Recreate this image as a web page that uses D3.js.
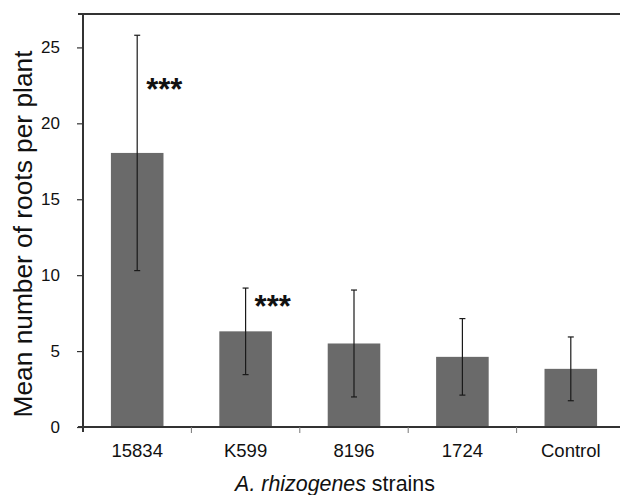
<!DOCTYPE html>
<html>
<head>
<meta charset="utf-8">
<script src="https://d3js.org/d3.v7.min.js"></script>
<style>
  body { margin: 0; background: #fff; }
  svg { display: block; }
  text { font-family: Arial, "Liberation Sans", sans-serif; fill: #111; }
</style>
</head>
<body>
<div id="chart"></div>
<script>
  // Chart data
  const strains = ['15834', 'K599', '8196', '1724', 'Control'];
  const meanRoots = [18.05, 6.3, 5.5, 4.62, 3.83];
  const sdRoots = [7.75, 2.85, 3.52, 2.52, 2.1];
  const stars = ['***', '***', '', '', ''];
  const starLevel = [22.7, 8.4, 0, 0, 0];
  const yTicks = [0, 5, 10, 15, 20, 25];

  const width = 620, height = 495;
  const margin = {top: 14, right: -5, bottom: 68, left: 83};
  const fontFam = 'Arial, "Liberation Sans", sans-serif';

  const svg = d3.select('#chart')
    .append('svg')
    .attr('width', width)
    .attr('height', height);

  const x = d3.scaleBand()
    .domain(strains)
    .range([margin.left, width - margin.right])
    .paddingInner(0.515)
    .paddingOuter(0.2575);

  const y = d3.scaleLinear()
    .domain([0, 27.2])
    .range([height - margin.bottom, margin.top]);

  // bars
  svg.selectAll('rect.bar')
    .data(strains)
    .enter()
    .append('rect')
    .attr('class', 'bar')
    .attr('x', d => x(d))
    .attr('width', x.bandwidth())
    .attr('y', (d, i) => y(meanRoots[i]))
    .attr('height', (d, i) => y(0) - y(meanRoots[i]))
    .style('fill', '#6a6a6a');

  // error bars
  const err = svg.append('g');
  strains.forEach((s, i) => {
    const cx = x(s) + x.bandwidth() / 2;
    const lo = y(meanRoots[i] - sdRoots[i]);
    const hi = y(meanRoots[i] + sdRoots[i]);
    err.append('line')
      .attr('x1', cx).attr('x2', cx).attr('y1', lo).attr('y2', hi)
      .style('stroke', '#1a1a1a').style('stroke-width', 1.2);
    [lo, hi].forEach(yy => {
      err.append('line')
        .attr('x1', cx - 3).attr('x2', cx + 3).attr('y1', yy).attr('y2', yy)
        .style('stroke', '#1a1a1a').style('stroke-width', 1.2);
    });
  });

  // significance stars
  svg.selectAll('text.star')
    .data(strains)
    .enter()
    .append('text')
    .attr('class', 'star')
    .attr('x', d => x(d) + x.bandwidth() / 2 + 9)
    .attr('y', (d, i) => y(starLevel[i]) + 18)
    .style('font-size', '31px')
    .style('font-weight', 'bold')
    .text((d, i) => stars[i]);

  // top frame line
  svg.append('line')
    .attr('x1', margin.left - 5).attr('x2', width)
    .attr('y1', margin.top).attr('y2', margin.top)
    .style('stroke', '#333').style('stroke-width', 2);

  // y axis
  const yAxis = svg.append('g')
    .attr('transform', `translate(${margin.left},0)`)
    .call(d3.axisLeft(y).tickValues(yTicks).tickSize(6).tickPadding(17).tickSizeOuter(0));
  yAxis.select('.domain').remove();
  yAxis.append('line')
    .attr('x1', 0).attr('x2', 0).attr('y1', margin.top).attr('y2', y(0) + 5)
    .style('stroke', '#333').style('stroke-width', 2);
  yAxis.selectAll('.tick line').style('stroke', '#333').style('stroke-width', 1.2);
  yAxis.selectAll('.tick text').style('font-size', '17px').style('fill', '#111')
    .style('font-family', fontFam);

  // x axis
  const xAxis = svg.append('g')
    .attr('transform', `translate(0,${y(0)})`)
    .call(d3.axisBottom(x).tickSize(0).tickPadding(17));
  xAxis.select('.domain').remove();
  xAxis.append('line')
    .attr('x1', margin.left - 5).attr('x2', width)
    .attr('y1', 0).attr('y2', 0)
    .style('stroke', '#333').style('stroke-width', 2);
  xAxis.selectAll('.tick text').style('font-size', '18.5px').style('fill', '#111')
    .style('font-family', fontFam);
  // category boundary ticks
  const step = x.step();
  const bounds = strains.slice(1).map(s => x(s) - (step - x.bandwidth()) / 2);
  xAxis.selectAll('line.sep')
    .data(bounds)
    .enter()
    .append('line')
    .attr('class', 'sep')
    .attr('x1', d => d).attr('x2', d => d)
    .attr('y1', 0).attr('y2', 6)
    .style('stroke', '#777').style('stroke-width', 1);

  // axis titles
  svg.append('text')
    .attr('transform', `translate(32,234) rotate(-90)`)
    .attr('text-anchor', 'middle')
    .style('font-size', '26.3px')
    .text('Mean number of roots per plant');

  const xt = svg.append('text')
    .attr('x', 335)
    .attr('y', 491)
    .attr('text-anchor', 'middle')
    .style('font-size', '21.4px');
  xt.append('tspan').style('font-style', 'italic').text('A. rhizogenes');
  xt.append('tspan').text(' strains');
</script>
</body>
</html>
